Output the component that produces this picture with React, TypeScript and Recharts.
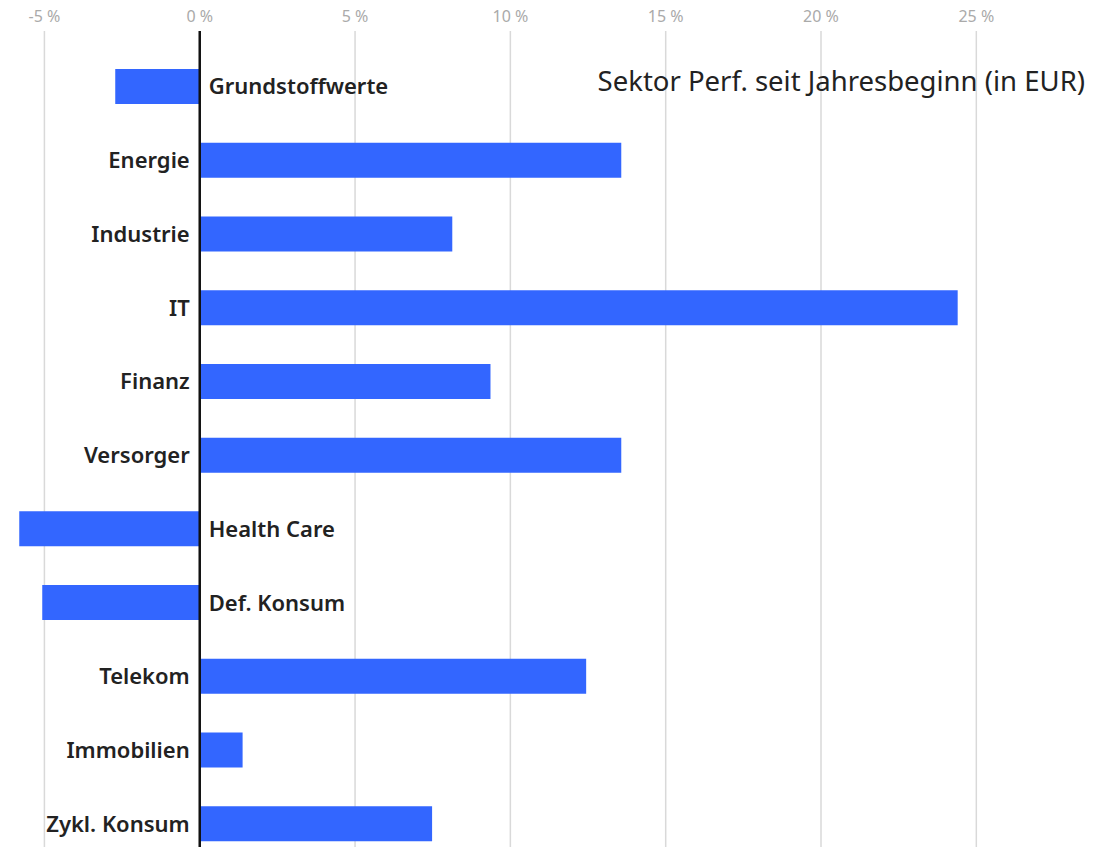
import { BarChart, Bar, XAxis, YAxis, CartesianGrid, ReferenceLine, LabelList } from "recharts";

const SECTORS = [
  "Grundstoffwerte",
  "Energie",
  "Industrie",
  "IT",
  "Finanz",
  "Versorger",
  "Health Care",
  "Def. Konsum",
  "Telekom",
  "Immobilien",
  "Zykl. Konsum",
];

// YTD performance in %
const PERF = [-2.72, 13.57, 8.13, 24.4, 9.36, 13.57, -5.81, -5.07, 12.44, 1.38, 7.48];

const X_TICKS = [-5, 0, 5, 10, 15, 20, 25];

const TITLE = "Sektor Perf. seit Jahresbeginn (in EUR)";

const FONT = "'Noto Sans', sans-serif";
const BLUE = "#3366FF";

const data = SECTORS.map((name, i) => ({ name, value: PERF[i] }));

// label sits next to the zero line, on the side opposite the bar
const SectorLabel = (props: any) => {
  const { x, y, width, height, value, index } = props;
  const left = Math.min(x, x + width);
  const right = Math.max(x, x + width);
  const pos = value >= 0;
  const zeroX = pos ? left : right;
  return (
    <text
      x={pos ? zeroX - 10 : zeroX + 9}
      y={y + height / 2}
      dy="0.36em"
      textAnchor={pos ? "end" : "start"}
      fontFamily={FONT}
      fontSize={22}
      fontWeight={600}
      fill="#222"
    >
      {SECTORS[index]}
    </text>
  );
};

export default function App() {
  return (
    <div style={{ position: "fixed", top: 0, left: 0, width: 1113, height: 847, overflow: "hidden", background: "#fff" }}>
      <BarChart
        width={1113}
        height={861}
        data={data}
        layout="vertical"
        margin={{ top: 0, right: 0, bottom: 0, left: 0 }}
        barSize={35}
      >
        <CartesianGrid vertical horizontal={false} syncWithTicks stroke="#d9d9d9" strokeWidth={1.5} />
        <XAxis
          type="number"
          orientation="top"
          domain={[-6.43, 29.4]}
          ticks={X_TICKS}
          allowDataOverflow
          height={31}
          axisLine={false}
          tickLine={false}
          tickMargin={3}
          tick={{ fontSize: 16, fill: "#aaa", fontFamily: FONT }}
          tickFormatter={(v) => `${v} %`}
        />
        <YAxis type="category" dataKey="name" hide padding={{ top: 19, bottom: 0 }} />
        <ReferenceLine x={0} stroke="#111" strokeWidth={2.5} />
        <Bar dataKey="value" fill={BLUE} isAnimationActive={false}>
          <LabelList dataKey="value" content={<SectorLabel />} />
        </Bar>
      </BarChart>
      <div
        style={{
          position: "absolute",
          top: 62,
          right: 28,
          fontFamily: FONT,
          fontSize: 27.5,
          color: "#222",
          whiteSpace: "nowrap",
        }}
      >
        {TITLE}
      </div>
    </div>
  );
}
